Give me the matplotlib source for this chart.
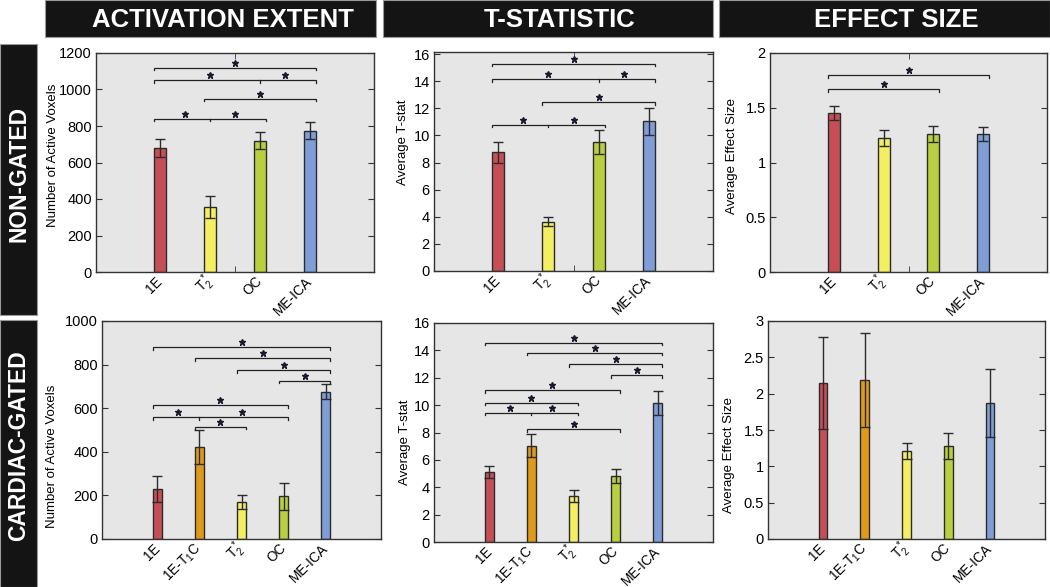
import matplotlib
matplotlib.use("Agg")
import matplotlib.pyplot as plt
from matplotlib.patches import Rectangle
from matplotlib.ticker import FuncFormatter, FixedLocator
from matplotlib.transforms import ScaledTranslation
import numpy as np

plt.rcParams['font.family'] = ['Liberation Sans', 'DejaVu Sans']

# ---------------- data ----------------
headers = ['ACTIVATION EXTENT', 'T-STATISTIC', 'EFFECT SIZE']
row_labels = ['NON-GATED', 'CARDIAC-GATED']

labels_ng = ['1E', 'T$\\mathregular{_2^*}$', 'OC', 'ME-ICA']
labels_cg = ['1E', '1E-T$\\mathregular{_1}$C', 'T$\\mathregular{_2^*}$', 'OC', 'ME-ICA']
colors_ng = ['#c64f57', '#f3ee62', '#b9cf40', '#7f9ed8']
colors_cg = ['#c64f57', '#df9a1c', '#f3ee62', '#b9cf40', '#7f9ed8']

ext_ng = [680, 355, 720, 775]
ext_ng_err = [50, 60, 45, 45]
tstat_ng = [8.75, 3.65, 9.5, 11.05]
tstat_ng_err = [0.75, 0.35, 0.9, 1.0]
eff_ng = [1.45, 1.225, 1.26, 1.26]
eff_ng_err = [0.065, 0.07, 0.07, 0.065]

ext_cg = [230, 420, 168, 195, 676]
ext_cg_err = [58, 78, 32, 60, 35]
tstat_cg = [5.1, 7.05, 3.35, 4.8, 10.15]
tstat_cg_err = [0.45, 0.85, 0.45, 0.5, 0.85]
eff_cg = [2.15, 2.19, 1.21, 1.28, 1.87]
eff_cg_err = [0.63, 0.65, 0.105, 0.175, 0.47]

# significance brackets: (first bar, last bar, level, intermediate ticks)
sig_ext_ng = [(0, 3, 1120, []), (0, 3, 1051, [2]), (1, 3, 949, []), (0, 2, 840, [1])]
sig_tstat_ng = [(0, 3, 15.3, []), (0, 3, 14.13, [2]), (1, 3, 12.47, []), (0, 2, 10.8, [1])]
sig_eff_ng = [(0, 3, 1.80, []), (0, 2, 1.67, [])]
sig_ext_cg = [(0, 4, 879, []), (1, 4, 829, []), (2, 4, 773, []), (3, 4, 727, []),
              (0, 3, 614, []), (0, 3, 560, [1]), (1, 2, 516, [])]
sig_tstat_cg = [(0, 4, 14.56, []), (1, 4, 13.83, []), (2, 4, 12.98, []), (3, 4, 12.17, []),
                (0, 3, 11.1, []), (0, 2, 10.17, []), (0, 2, 9.44, [1]), (1, 3, 8.24, [])]
sig_eff_cg = []

ylabels = ['Number of Active Voxels', 'Average T-stat', 'Average Effect Size']
yticks_ng = [np.arange(0, 1201, 200), np.arange(0, 17, 2), np.arange(0, 2.01, 0.5)]
yticks_cg = [np.arange(0, 1001, 200), np.arange(0, 17, 2), np.arange(0, 3.01, 0.5)]
ylims_ng = [(0, 1200), (0, 16.15), (0, 2)]
ylims_cg = [(0, 1000), (0, 16), (0, 3)]

# ---------------- layout ----------------
W, H = 1050, 587
fig = plt.figure(figsize=(W / 100, H / 100), dpi=100)


def box(x0, y0, x1, y1):
    return [x0 / W, 1 - y1 / H, (x1 - x0) / W, (y1 - y0) / H]


axes_px = [
    [(96, 53, 374, 272), (434, 52, 713, 271), (770, 53, 1047, 272)],
    [(102, 321, 381, 539), (434, 323, 713, 542), (768, 321, 1045, 539)],
]
# y-label centres in pixels
ylab_px = [
    [(53, 155), (403, 142), (732, 156)],
    [(52, 456), (405, 442), (729, 455)],
]

# header boxes
head_px = [(45, 0, 376, 37), (383, 0, 713, 37), (719, 0, 1050, 37)]
for (x0, y0, x1, y1), t in zip(head_px, headers):
    fig.add_artist(Rectangle((x0 / W, 1 - y1 / H), (x1 - x0) / W, (y1 - y0) / H,
                             transform=fig.transFigure, facecolor='#141414',
                             edgecolor='#9a9a9a', linewidth=0.8))
    fig.text((x0 + x1) / 2 / W + 12 / W, 1 - 20 / H, t, color='white', fontsize=18.5,
             fontweight='bold', ha='center', va='center')

side_px = [(0, 44, 37, 315), (0, 320, 37, 587)]
for (x0, y0, x1, y1), t, dy in zip(side_px, row_labels, [-6, -8]):
    fig.add_artist(Rectangle((x0 / W, 1 - y1 / H), (x1 - x0) / W, (y1 - y0) / H,
                             transform=fig.transFigure, facecolor='#141414',
                             edgecolor='#9a9a9a', linewidth=0.8))
    fig.text(19 / W, 1 - ((y0 + y1) / 2 + dy) / H, t, color='white', fontsize=16.5,
             fontweight='bold', ha='center', va='center', rotation=90)

fmt = FuncFormatter(lambda v, p: f'{v:g}')


def panel(ax, rect, lab_xy, labels, colors, vals, errs, sigs, ylabel, yticks, ylim):
    n = len(vals)
    x = np.arange(1, n + 1)
    w = 0.24 if n == 4 else 0.21
    pad = 1.28 if n == 4 else 1.32
    ax.set_facecolor('#e6e6e6')
    ax.bar(x, vals, width=w, color=colors, edgecolor='#2b2b2b', linewidth=1.0, zorder=2)
    ax.errorbar(x, vals, yerr=errs, fmt='none', ecolor='#2b2b2b', elinewidth=1.0,
                capsize=3.3, capthick=1.0, zorder=3)
    ax.set_xlim(1 - pad, n + pad)
    ax.set_ylim(*ylim)
    ax.set_yticks(yticks)
    ax.yaxis.set_major_formatter(fmt)
    ax.set_xticks(x)
    ax.set_xticklabels(labels, rotation=45, ha='right', va='center',
                       rotation_mode='anchor', fontsize=9.8)
    ax.xaxis.set_minor_locator(FixedLocator([(n + 1) / 2]))
    ax.tick_params(axis='x', which='major', length=0, pad=5)
    ax.tick_params(axis='x', which='minor', length=4, direction='in', top=True, bottom=True,
                   color='#333333')
    ax.tick_params(axis='y', which='major', length=4, direction='in', left=True, right=True,
                   labelsize=10.5, color='#333333', pad=3)
    ax.set_ylabel(ylabel, fontsize=9.5)
    x0, y0, x1, y1 = rect
    lx, ly = lab_xy
    ax.yaxis.set_label_coords((lx + 6 - x0) / (x1 - x0), (y1 - ly) / (y1 - y0))
    for s in ax.spines.values():
        s.set_color('#333333')
        s.set_linewidth(1.0)
    # significance brackets
    tick = (ylim[1] - ylim[0]) * 0.012
    off = ScaledTranslation(0, 5 / 100, fig.dpi_scale_trans)
    for i, j, lev, mids in sigs:
        xs, xe = x[i] - w / 2, x[j] + w / 2
        ax.plot([xs, xs, xe, xe], [lev - tick, lev, lev, lev - tick],
                color='#222222', linewidth=0.9, zorder=4, solid_joinstyle='miter')
        pts = [i] + mids + [j]
        for m in mids:
            ax.plot([x[m], x[m]], [lev, lev - tick], color='#222222', linewidth=0.9, zorder=4)
        for a, b in zip(pts[:-1], pts[1:]):
            ax.plot((x[a] + x[b]) / 2, lev, marker='*', markersize=5, color='#1a1a2e',
                    transform=ax.transData + off, zorder=5)


vals_ng = [(ext_ng, ext_ng_err, sig_ext_ng), (tstat_ng, tstat_ng_err, sig_tstat_ng),
           (eff_ng, eff_ng_err, sig_eff_ng)]
vals_cg = [(ext_cg, ext_cg_err, sig_ext_cg), (tstat_cg, tstat_cg_err, sig_tstat_cg),
           (eff_cg, eff_cg_err, sig_eff_cg)]

for c in range(3):
    r = axes_px[0][c]
    ax = fig.add_axes(box(*r))
    v, e, s = vals_ng[c]
    panel(ax, r, ylab_px[0][c], labels_ng, colors_ng, v, e, s, ylabels[c], yticks_ng[c], ylims_ng[c])
    r = axes_px[1][c]
    ax = fig.add_axes(box(*r))
    v, e, s = vals_cg[c]
    panel(ax, r, ylab_px[1][c], labels_cg, colors_cg, v, e, s, ylabels[c], yticks_cg[c], ylims_cg[c])

fig.savefig('out.png', dpi=100)
